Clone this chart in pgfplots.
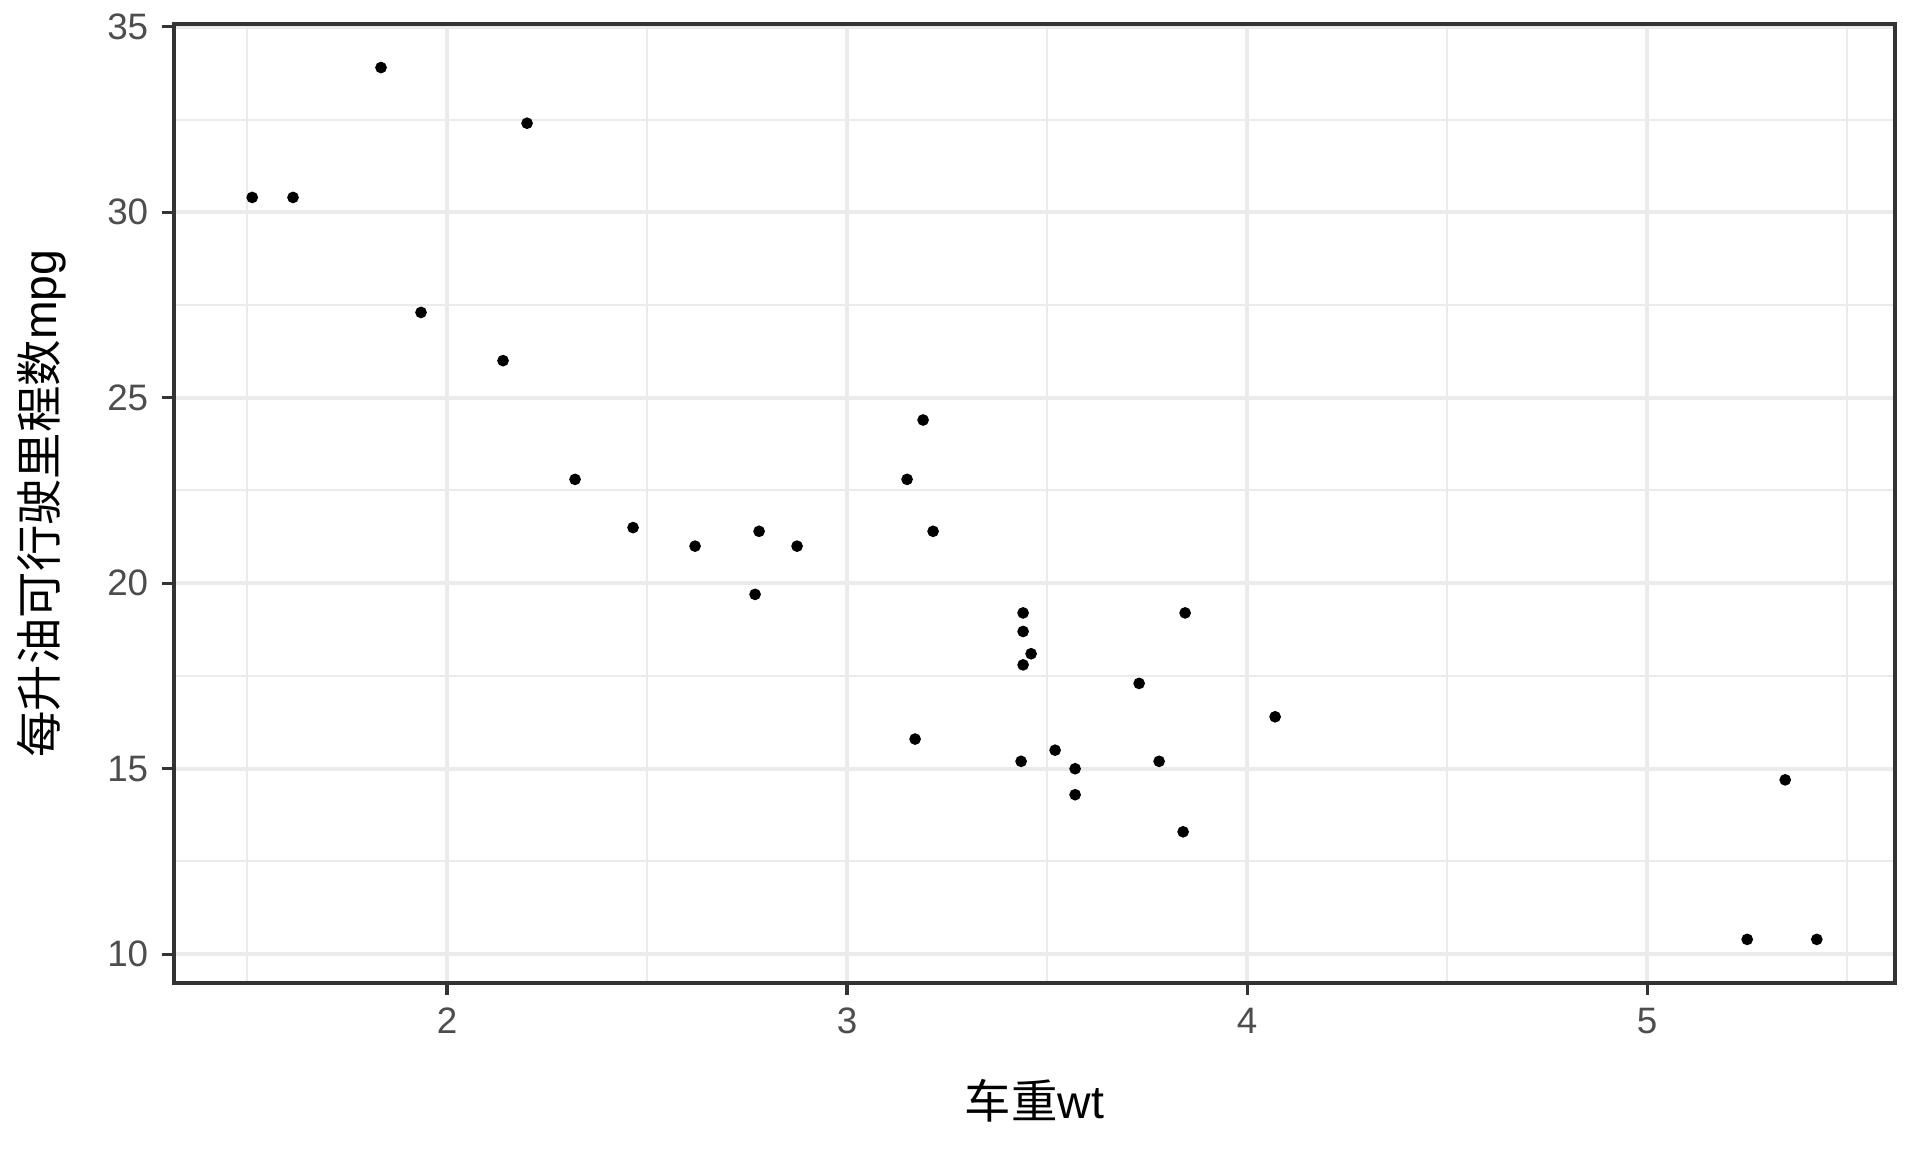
\documentclass[border=0pt]{standalone}
\usepackage{fontspec}
\setmainfont{Liberation Sans}
\newfontfamily\cjk{Noto Sans CJK SC}
\usepackage{pgfplots}
\pgfplotsset{compat=1.18}
\definecolor{gridc}{HTML}{EBEBEB}
\definecolor{borderc}{HTML}{333333}
\definecolor{tickc}{HTML}{4D4D4D}
\begin{document}
\begin{tikzpicture}
\useasboundingbox (-43.5pt,-42.25pt) rectangle (436.5pt,245.75pt);
\begin{axis}[
  at={(0,0)}, anchor=south west,
  scale only axis, width=430.25pt, height=239.75pt,
  xmin=1.3175, xmax=5.6195, ymin=9.225, ymax=35.075,
  xtick={2,3,4,5}, ytick={10,15,20,25,30,35},
  minor xtick={1.5,2.5,3.5,4.5,5.5},
  minor ytick={12.5,17.5,22.5,27.5,32.5},
  grid=both,
  major grid style={draw=gridc, line width=1pt},
  minor grid style={draw=gridc, line width=0.5pt},
  axis line style={draw=borderc, line width=0.8pt},
  tick align=outside,
  major tick length=3pt, minor tick length=0pt,
  tick style={draw=borderc, line width=0.8pt},
  xtick pos=bottom, ytick pos=left,
  /pgf/number format/assume math mode=true,
  tick label style={font=\fontsize{9.2pt}{10pt}\selectfont, text=tickc},
  xticklabel style={anchor=north, inner sep=0pt, yshift=-3pt},
  yticklabel style={anchor=east, inner sep=0pt, xshift=-3.25pt},
  xlabel={{\cjk 车重}wt},
  ylabel={{\cjk 每升油可行驶里程数}mpg},
  every axis x label/.style={at={(axis description cs:0.5,0)}, anchor=center, yshift=-29.5pt, font=\fontsize{11.6pt}{13pt}\selectfont},
  every axis y label/.style={at={(axis description cs:0,0.5)}, anchor=center, rotate=90, yshift=33pt, font=\fontsize{11.6pt}{13pt}\selectfont},
  axis on top=false,
]
\addplot[only marks, mark=*, mark size=1.25pt, draw=black, fill=black] coordinates {
(2.620,21.0) (2.875,21.0) (2.320,22.8) (3.215,21.4) (3.440,18.7) (3.460,18.1)
(3.570,14.3) (3.190,24.4) (3.150,22.8) (3.440,19.2) (3.440,17.8) (4.070,16.4)
(3.730,17.3) (3.780,15.2) (5.250,10.4) (5.424,10.4) (5.345,14.7) (2.200,32.4)
(1.615,30.4) (1.835,33.9) (2.465,21.5) (3.520,15.5) (3.435,15.2) (3.840,13.3)
(3.845,19.2) (1.935,27.3) (2.140,26.0) (1.513,30.4) (3.170,15.8) (2.770,19.7)
(3.570,15.0) (2.780,21.4)
};
\end{axis}
\end{tikzpicture}
\end{document}
